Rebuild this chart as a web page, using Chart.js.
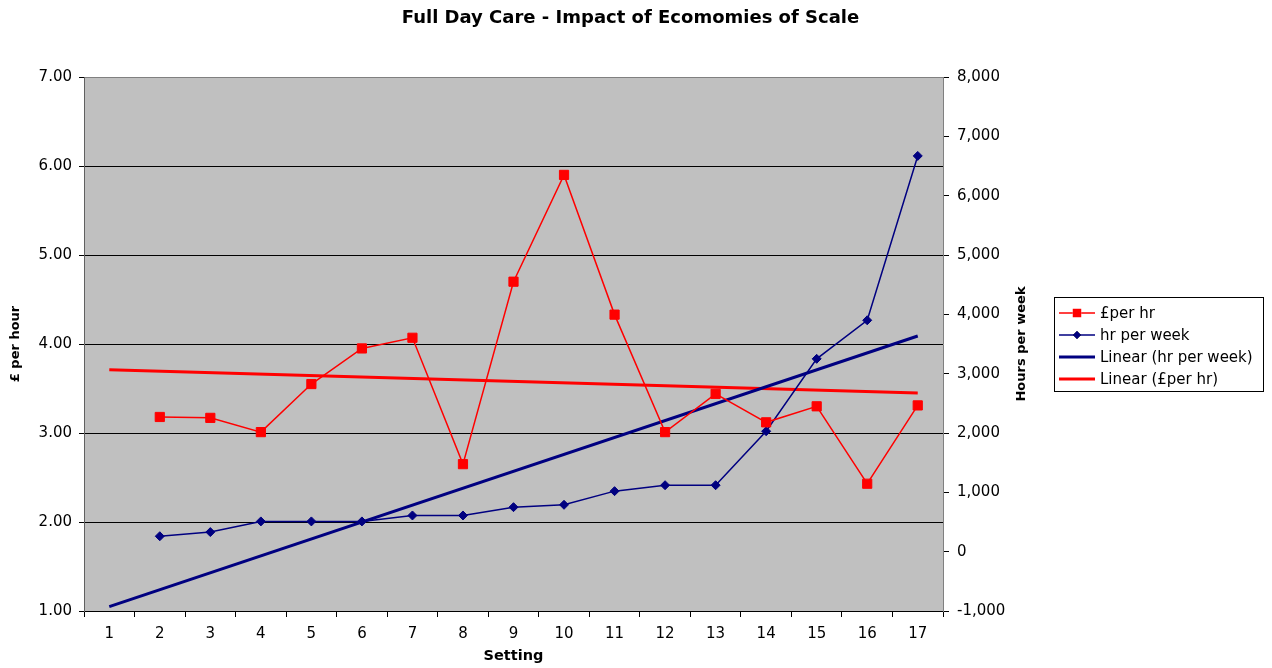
<!DOCTYPE html>
<html>
<head>
<meta charset="utf-8">
<title>Full Day Care - Impact of Ecomomies of Scale</title>
<script src="https://cdn.jsdelivr.net/npm/chart.js@4/dist/chart.umd.min.js"></script>
<style>
  html, body { margin: 0; padding: 0; background: #fff; }
  canvas { display: block; }
</style>
</head>
<body>
<canvas id="chart" width="1272" height="668"></canvas>
<script>
// Datos
const settings = ["1", "2", "3", "4", "5", "6", "7", "8", "9", "10", "11", "12", "13", "14", "15", "16", "17"];
const perHour = [null, 3.18, 3.17, 3.01, 3.55, 3.95, 4.07, 2.65, 4.70, 5.90, 4.33, 3.01, 3.44, 3.12, 3.30, 2.43, 3.31];
const hoursPerWeek = [null, 260, 330, 510, 510, 510, 610, 610, 750, 790, 1020, 1120, 1120, 2030, 3250, 3900, 6670];
// lineas de tendencia: solo extremos (setting 1 y 17)
const trendHours = [-925, null, null, null, null, null, null, null, null, null, null, null, null, null, null, null, 3635];
const trendPerHour = [3.71, null, null, null, null, null, null, null, null, null, null, null, null, null, null, null, 3.45];

const leftTicks = { min: 1, max: 7, step: 1 };
const rightTicks = { min: -1000, max: 8000, step: 1000 };

const RED = "#ff0000";
const NAVY = "#000080";
const FONT = "'DejaVu Sans', 'Liberation Sans', Arial, sans-serif";

// Fondo gris del area de trazado
const plotBackground = {
  id: "plotBackground",
  beforeDraw(chart) {
    const { ctx, chartArea } = chart;
    ctx.save();
    ctx.fillStyle = "#c0c0c0";
    ctx.fillRect(chartArea.left, chartArea.top, chartArea.right - chartArea.left, chartArea.bottom - chartArea.top);
    ctx.restore();
  },
};

// Leyenda y titulo del eje derecho
const extras = {
  id: "extras",
  afterDraw(chart) {
    const { ctx } = chart;
    ctx.save();

    // titulo eje derecho (de abajo hacia arriba)
    ctx.translate(1022, 344);
    ctx.rotate(-Math.PI / 2);
    ctx.fillStyle = "#000";
    ctx.font = "bold 13px " + FONT;
    ctx.textAlign = "center";
    ctx.textBaseline = "middle";
    ctx.fillText("Hours per week", 0, 0);
    ctx.restore();

    // leyenda
    ctx.save();
    const box = { x: 1054.5, y: 297.5, w: 209, h: 94 };
    ctx.fillStyle = "#fff";
    ctx.fillRect(box.x, box.y, box.w, box.h);
    ctx.strokeStyle = "#000";
    ctx.lineWidth = 1;
    ctx.strokeRect(box.x, box.y, box.w, box.h);

    const rows = [
      { text: "£per hr", color: RED, width: 1.5, marker: "rect", r: 6 },
      { text: "hr per week", color: NAVY, width: 1.5, marker: "rectRot", r: 4 },
      { text: "Linear (hr per week)", color: NAVY, width: 3, marker: null },
      { text: "Linear (£per hr)", color: RED, width: 3, marker: null },
    ];
    ctx.font = "15px " + FONT;
    ctx.textAlign = "left";
    ctx.textBaseline = "middle";
    rows.forEach((row, i) => {
      const y = 313 + i * 22;
      ctx.strokeStyle = row.color;
      ctx.lineWidth = row.width;
      ctx.beginPath();
      ctx.moveTo(1059, y);
      ctx.lineTo(1095, y);
      ctx.stroke();
      if (row.marker) {
        Chart.helpers.drawPoint(ctx, { pointStyle: row.marker, radius: row.r, rotation: 0, borderWidth: 0 }, 1077, y);
        ctx.fillStyle = row.color;
        ctx.fill();
      }
      ctx.fillStyle = "#000";
      ctx.fillText(row.text, 1100, y + 1);
    });
    ctx.restore();
  },
};

new Chart(document.getElementById("chart"), {
  type: "line",
  data: {
    labels: settings,
    datasets: [
      {
        label: "£per hr",
        data: perHour,
        yAxisID: "y",
        borderColor: RED,
        backgroundColor: RED,
        borderWidth: 1.5,
        pointStyle: "rect",
        pointRadius: 6.5,
        pointBorderWidth: 1,
        tension: 0,
        spanGaps: false,
      },
      {
        label: "hr per week",
        data: hoursPerWeek,
        yAxisID: "y1",
        borderColor: NAVY,
        backgroundColor: NAVY,
        borderWidth: 1.5,
        pointStyle: "rectRot",
        pointRadius: 4.5,
        pointBorderWidth: 1,
        tension: 0,
      },
      {
        label: "Linear (hr per week)",
        data: trendHours,
        yAxisID: "y1",
        borderColor: NAVY,
        borderWidth: 3,
        pointRadius: 0,
        spanGaps: true,
      },
      {
        label: "Linear (£per hr)",
        data: trendPerHour,
        yAxisID: "y",
        borderColor: RED,
        borderWidth: 3,
        pointRadius: 0,
        spanGaps: true,
      },
    ],
  },
  options: {
    responsive: false,
    animation: false,
    devicePixelRatio: 1,
    layout: { padding: { left: 0, right: 11, top: 0, bottom: 0 } },
    plugins: {
      legend: { display: false },
      tooltip: { enabled: false },
      title: {
        display: true,
        text: "Full Day Care - Impact of Ecomomies of Scale",
        color: "#000",
        font: { family: FONT, size: 18, weight: "bold", lineHeight: 1.2 },
        padding: { top: 8, bottom: 47.4 },
      },
    },
    scales: {
      x: {
        type: "category",
        offset: true,
        grid: {
          offset: true,
          drawOnChartArea: false,
          drawTicks: true,
          tickLength: 6,
          color: "#000",
        },
        border: { color: "#000", width: 1 },
        ticks: {
          color: "#000",
          font: { family: FONT, size: 15 },
          padding: 8,
          maxRotation: 0,
          autoSkip: false,
        },
        title: {
          display: true,
          text: "Setting",
          color: "#000",
          font: { family: FONT, size: 14.5, weight: "bold" },
          padding: { top: 0, bottom: 3 },
        },
        afterFit: (s) => { s.height = 57; },
      },
      y: {
        position: "left",
        min: leftTicks.min,
        max: leftTicks.max,
        grid: {
          color: (c) => (c.tick && c.tick.value === leftTicks.max ? "#808080" : "#000"),
          tickColor: "#000",
          lineWidth: 1,
          tickLength: 5,
        },
        border: { color: "#606060", width: 1 },
        ticks: {
          stepSize: leftTicks.step,
          color: "#000",
          font: { family: FONT, size: 15 },
          padding: 7,
          callback: (v) => Number(v).toFixed(2),
        },
        title: {
          display: true,
          text: "£ per hour",
          color: "#000",
          font: { family: FONT, size: 13, weight: "bold" },
          padding: { top: 8, bottom: 0 },
        },
        afterFit: (s) => { s.width = 84; },
      },
      y1: {
        position: "right",
        min: rightTicks.min,
        max: rightTicks.max,
        grid: {
          drawOnChartArea: false,
          tickLength: 6,
          color: "#000",
        },
        border: { color: "#808080", width: 1 },
        ticks: {
          stepSize: rightTicks.step,
          color: "#000",
          font: { family: FONT, size: 15 },
          padding: 8,
          callback: (v) => Number(v).toLocaleString("en-US"),
        },
        afterFit: (s) => { s.width = 318; },
      },
    },
  },
  plugins: [plotBackground, extras],
});
</script>
</body>
</html>
